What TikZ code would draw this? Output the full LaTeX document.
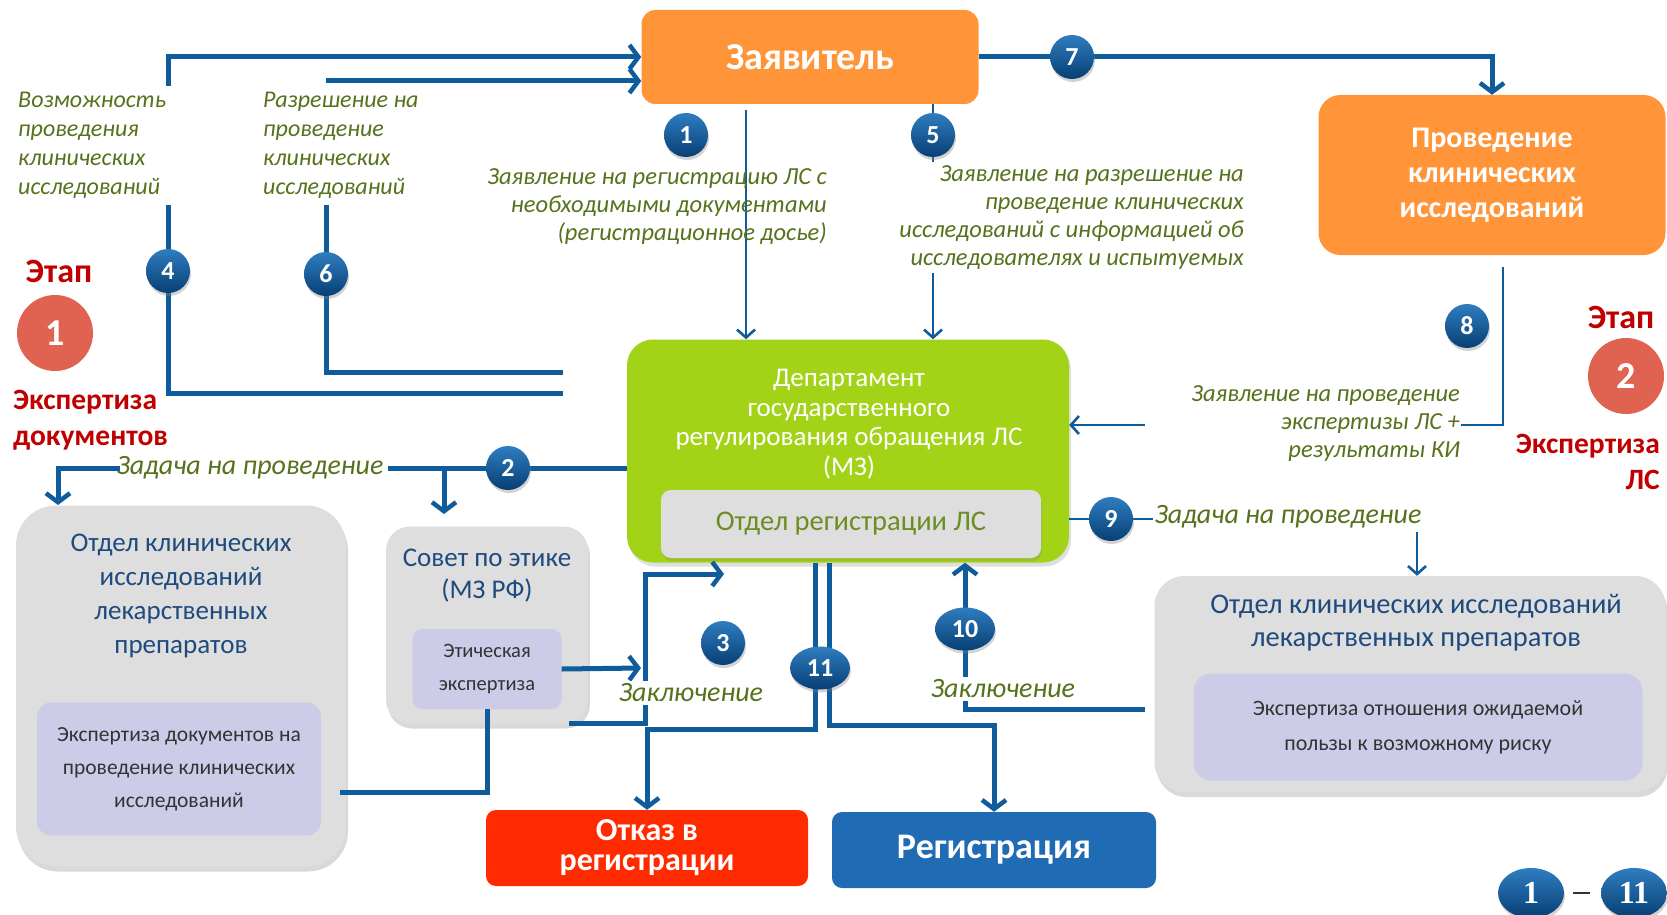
\documentclass[tikz,border=0pt]{standalone}
\usepackage{fontspec}
\setmainfont{Carlito}
\newfontfamily\serifbf{Liberation Serif}
\usetikzlibrary{arrows.meta,shadows,calc,shapes.geometric}

\definecolor{lnblue}{HTML}{0F5C9C}
\definecolor{bdgtop}{HTML}{2F7DC0}
\definecolor{bdgbot}{HTML}{073F74}
\definecolor{lblgreen}{HTML}{56721C}
\definecolor{orng}{HTML}{FF9439}
\definecolor{lime}{HTML}{A2D317}
\definecolor{gbox}{HTML}{DEDEDE}
\definecolor{pbox}{HTML}{CCCCE8}
\definecolor{ttlblue}{HTML}{1F4A7E}
\definecolor{darktxt}{HTML}{333333}
\definecolor{stred}{HTML}{C00000}
\definecolor{stcirc}{HTML}{DF6350}
\definecolor{rejred}{HTML}{FF2A00}
\definecolor{regblue}{HTML}{1F6CB5}
\definecolor{regtxt}{HTML}{6B8E23}

\tikzset{
  thk/.style={draw=lnblue, line width=5pt},
  thn/.style={draw=lnblue, line width=1.6pt},
  tipthk/.style={-{Straight Barb[length=9pt,width=24pt,line width=4.5pt]}},
  tipthn/.style={-{Straight Barb[length=8pt,width=18pt,line width=2.6pt]}},
  badge/.style={circle, minimum size=44pt, inner sep=0pt, top color=bdgtop, bottom color=bdgbot,
     text=white, font=\fontsize{26}{26}\selectfont\bfseries,
     drop shadow={shadow xshift=1pt, shadow yshift=-3pt, opacity=0.35}},
  ebadge/.style={badge, ellipse, minimum width=60pt, minimum height=43pt},
  lbl/.style={text=lblgreen, font=\fontsize{24.5}{28}\selectfont\itshape, inner sep=0pt},
  lblbig/.style={text=lblgreen, font=\fontsize{28}{28}\selectfont\itshape, inner sep=0pt},
  lbll/.style={text=lblgreen, font=\fontsize{24}{29}\selectfont\itshape, inner sep=0pt, align=left, anchor=west},
  orbox/.style={rounded corners=14pt, fill=orng, text=white, inner sep=0pt, align=center},
  graybox/.style={rounded corners=#1, fill=gbox, inner sep=0pt,
     drop shadow={shadow xshift=2pt, shadow yshift=-5pt, opacity=0.3}},
  purpbox/.style={rounded corners=14pt, fill=pbox, inner sep=0pt, text=darktxt, align=center},
  ttl/.style={text=ttlblue, align=center, inner sep=0pt},
  stagetxt/.style={text=stred, font=\fontsize{34}{34}\selectfont\bfseries, inner sep=0pt},
  stagecirc/.style={circle, fill=stcirc, minimum size=76pt, inner sep=0pt, text=white, font=\fontsize{38}{38}\selectfont\bfseries},
  endbox/.style={rounded corners=10pt, inner sep=0pt, text=white, align=center, font=\fontsize{32}{30}\selectfont\bfseries},
  whitelbl/.style={lblbig, fill=white, inner sep=3pt}
}

\begin{document}
\begin{tikzpicture}[x=1pt,y=-1pt]
\useasboundingbox (0,0) rectangle (1667,915);

% ---------- main boxes ----------
\node[orbox, minimum width=337pt, minimum height=94pt, font=\fontsize{38}{38}\selectfont\bfseries] (zay) at (810,57) {Заявитель};
\node[orbox, rounded corners=22pt, minimum width=347pt, minimum height=160pt, font=\fontsize{30}{35}\selectfont\bfseries] (prov) at (1492,175) {Проведение\\клинических\\исследований};

\node[rounded corners=26pt, fill=lime, minimum width=442pt, minimum height=223pt, inner sep=0pt,
      drop shadow={shadow xshift=2pt, shadow yshift=-4pt, opacity=0.25}] (dep) at (848,451) {};
\node[text=white, align=center, font=\fontsize{27}{29.5}\selectfont, inner sep=0pt] (deptxt) at (849,424)
  {Департамент\\государственного\\регулирования обращения ЛС\\(МЗ)};
\node[rounded corners=10pt, fill=gbox, minimum width=380pt, minimum height=68pt, inner sep=0pt,
      text=regtxt, font=\fontsize{28.5}{28.5}\selectfont,
      drop shadow={shadow xshift=1pt, shadow yshift=-3pt, opacity=0.25}] (otdreg) at (851,524) {Отдел регистрации ЛС};

% left gray box
\node[graybox=40pt, minimum width=330pt, minimum height=361pt] (okl) at (181,686) {};
\node[ttl, font=\fontsize{27}{34}\selectfont] (okltxt) at (181,596) {Отдел клинических\\исследований\\лекарственных\\препаратов};
\node[purpbox, minimum width=284pt, minimum height=133pt, font=\fontsize{21.5}{33}\selectfont] (ekl) at (179,769) {Экспертиза документов на\\проведение клинических\\исследований};

% Sovet box
\node[graybox=24pt, minimum width=202pt, minimum height=197pt] (sovet) at (487,625) {};
\node[ttl, font=\fontsize{27}{32}\selectfont] (sovettxt) at (487,576) {Совет по этике\\(МЗ РФ)};
\node[purpbox, rounded corners=10pt, minimum width=149pt, minimum height=80pt, font=\fontsize{20.5}{33}\selectfont] (etich) at (487,669) {Этическая\\экспертиза};

% right gray box
\node[graybox=30pt, minimum width=511pt, minimum height=216pt] (okr) at (1410,684) {};
\node[ttl, font=\fontsize{28.5}{33}\selectfont] (okrtxt) at (1416,623) {Отдел клинических исследований\\лекарственных препаратов};
\node[purpbox, rounded corners=18pt, minimum width=449pt, minimum height=107pt, font=\fontsize{22}{35}\selectfont] (ekr) at (1418,727) {Экспертиза отношения ожидаемой\\пользы к возможному риску};

% end boxes
\node[endbox, fill=rejred, minimum width=322pt, minimum height=76pt] (otkaz) at (647,848) {Отказ в\\регистрации};
\node[endbox, fill=regblue, minimum width=324pt, minimum height=76pt, font=\fontsize{36}{36}\selectfont\bfseries] (reg) at (994,850) {Регистрация};

% ---------- coordinates ----------
\coordinate (c4a) at (168,86);
\coordinate (c4y) at (0,57);
\coordinate (c6a) at (326,81);
\coordinate (c4b) at (168,205);
\coordinate (c4e) at (563,393);
\coordinate (c6b) at (326,205);
\coordinate (c6e) at (563,372);
\coordinate (c1) at (746,110);
\coordinate (c5a) at (933,104);
\coordinate (c5b) at (933,162);
\coordinate (c5c) at (933,273);
\coordinate (c8a) at (1503,267);
\coordinate (c8b) at (1461,425);
\coordinate (c8c) at (1145,425);
\coordinate (c2y) at (0,468);
\coordinate (c2a) at (388,468);
\coordinate (c2b) at (120,468);
\coordinate (c2l) at (58,505);
\coordinate (c2d) at (444,468);
\coordinate (c2s) at (444,514);
\coordinate (c3v) at (641,668);
\coordinate (c3a) at (569,723);
\coordinate (c3k) at (645,574);
\coordinate (c3h) at (724,574);
\coordinate (c3l) at (340,792);
\coordinate (c11l) at (815,729);
\coordinate (c11r) at (829,725);
\coordinate (c10) at (1145,709);
\coordinate (c10k) at (965,709);
\coordinate (c9y) at (0,519);
\coordinate (c9) at (1417,532);

% ---------- labels (drawn before badges) ----------
\node[lbll] (t4) at (18,145) {Возможность\\проведения\\клинических\\исследований};
\node[lbll] (t6) at (263,145) {Разрешение на\\проведение\\клинических\\исследований};
\node[lblbig] (t2) at (250,468) {Задача на проведение};
\node[lblbig, inner sep=1pt] (t9) at (1288,517) {Задача на проведение};

% ---------- connectors ----------
\draw[thk, tipthk] (c4a) |- (zay.west |- c4y);
\draw[thk, tipthk] (c6a) -- (zay.west |- c6a);
\draw[thk] (c4b) |- (c4e);
\draw[thk] (c6b) |- (c6e);
\draw[thn, tipthn] (c1) -- (c1 |- dep.north);
\draw[thn] (c5a) -- (c5b);
\draw[thn, tipthn] (c5c) -- (c5c |- dep.north);
\draw[thk, tipthk] (zay.east) -| (prov.north);
\draw[thn] (c8a) |- (c8b);
\draw[thn, tipthn] (c8c) -- (dep.east |- c8c);
\draw[thk] (dep.west |- c2y) -- (c2a);
\draw[thk, tipthk] (c2b) -| (c2l);
\draw[thk, tipthk] (c2d) -- (c2s);
\draw[thk, tipthk] (etich.east) -- (c3v);
\draw[thk, tipthk] (c3a) -| (c3k) -- (c3h);
\draw[thk] (c3l) -| (etich.south);
\draw[thk, tipthk] (dep.south -| c11l) -- (c11l) -| (otkaz.north);
\draw[thk, tipthk] (dep.south -| c11r) -- (c11r) -| (reg.north);
\draw[thk, tipthk] (c10) -- (c10k) -- (c10k |- dep.south);
\draw[thn] (dep.east |- c9y) -- (t9.west |- c9y);
\draw[thn, tipthn] (c9) -- (c9 |- okr.north);

% ---------- labels on lines ----------
\node[lbl, align=right, anchor=east] (t1) at (827,207) {Заявление на регистрацию ЛС с\\необходимыми документами\\(регистрационное досье)};
\node[lbl, align=right, anchor=east] (t5) at (1244,218) {Заявление на разрешение на\\проведение клинических\\исследований с информацией об\\исследователях и испытуемых};
\node[lbl, align=right, anchor=east, fill=white, inner sep=1pt] (t8) at (1461,424) {Заявление на проведение\\экспертизы ЛС +\\результаты КИ};
\node[whitelbl] (t3) at (691,693) {Заключение};
\node[whitelbl] (t10) at (1003,689) {Заключение};

% ---------- badges ----------
\node[badge] (b1) at (686,135) {1};
\node[badge] (b5) at (933,135) {5};
\node[badge] (b7) at (1072,57) {7};
\node[badge] (b4) at (168,271) {4};
\node[badge] (b6) at (326,274) {6};
\node[badge] (b8) at (1467,326) {8};
\node[badge] (b2) at (508,468) {2};
\node[badge] (b3) at (723,643) {3};
\node[badge] (b9) at (1111,519) {9};
\node[ebadge] (b11) at (820,668) {11};
\node[ebadge] (b10) at (965,629) {10};

% ---------- stages ----------
\node[stagetxt] (st1) at (59,271) {Этап};
\node[stagecirc] (sc1) at (55,333) {1};
\node[stagetxt, align=left, anchor=west, font=\fontsize{29.5}{36}\selectfont\bfseries] (sl1) at (13,420) {Экспертиза\\документов};
\node[stagetxt] (st2) at (1621,317) {Этап};
\node[stagecirc] (sc2) at (1626,376) {2};
\node[stagetxt, align=right, anchor=east, font=\fontsize{29.5}{36}\selectfont\bfseries] (sl2) at (1660,462) {Экспертиза\\ЛС};

% ---------- legend ----------
\node[badge, ellipse, minimum width=66pt, minimum height=50pt, font=\fontsize{32}{32}\serifbf\bfseries] (lg1) at (1531,893) {1};
\node[badge, ellipse, minimum width=66pt, minimum height=50pt, font=\fontsize{32}{32}\serifbf\bfseries] (lg11) at (1634,893) {11};
\draw[line width=2pt, black!80, shorten <=9pt, shorten >=11pt] (lg1.east) -- (lg11.west);
\end{tikzpicture}
\end{document}
